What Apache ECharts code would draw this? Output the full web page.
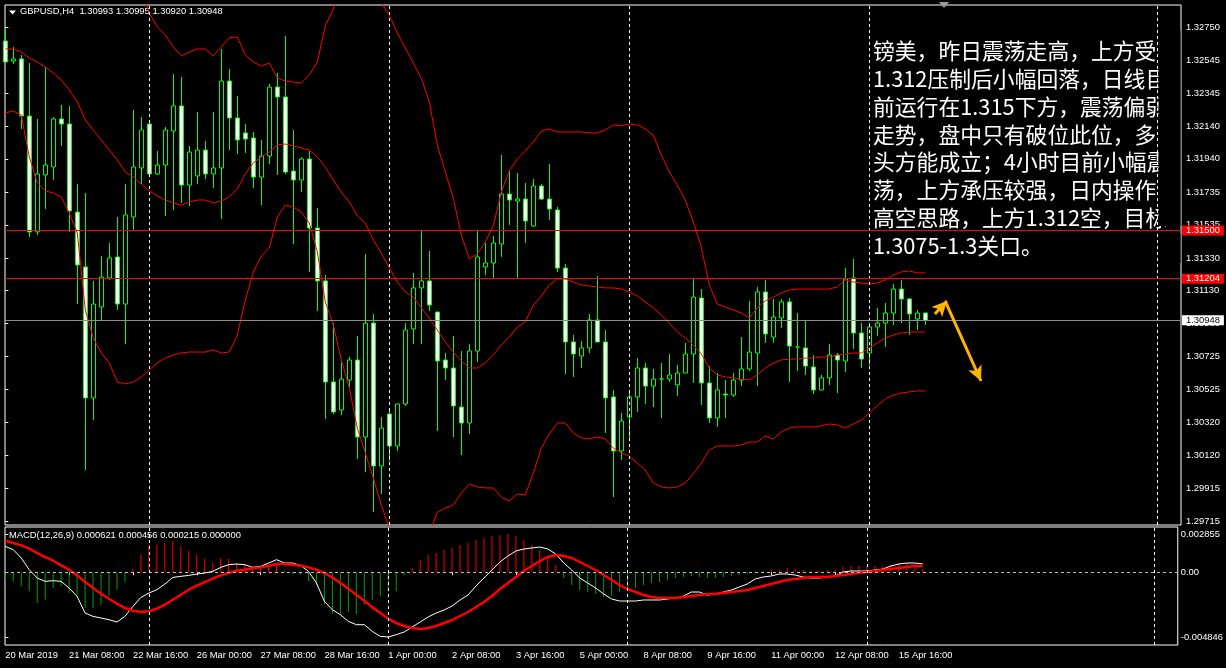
<!DOCTYPE html>
<html><head><meta charset="utf-8">
<script src="https://cdn.jsdelivr.net/npm/echarts/dist/echarts.min.js"></script>
<style>html,body{margin:0;padding:0;background:#000;}#c{width:1226px;height:668px;}</style>
</head><body><div id="c"></div><script>
const symbolName = 'GBPUSD,H4';
const xTickBars = [0,8,16,24,32,40,48,56,64,72,80,88,96,104,112];
const xTickLabels = ['20 Mar 2019','21 Mar 08:00','22 Mar 16:00','26 Mar 00:00','27 Mar 08:00','28 Mar 16:00','1 Apr 00:00','2 Apr 08:00','3 Apr 16:00','5 Apr 00:00','8 Apr 08:00','9 Apr 16:00','11 Apr 00:00','12 Apr 08:00','15 Apr 16:00'];
const yTickVals = [1.32750,1.32545,1.32345,1.32140,1.31940,1.31735,1.31535,1.31330,1.31130,1.30930,1.30725,1.30525,1.30320,1.30120,1.29915,1.29715];
const macdTickVals = [0.002855, 0, -0.004846];
const macdTickLabels = ['0.002855','0.00','-0.004846'];
const separators = [18,48,78,108,144];
const levelLines = [1.31500, 1.31204];
const bidLine = 1.30948;
const arrows = [[[116.2,1.30987],[117.7,1.31067]],[[117.6,1.31054],[121.96,1.30575]]];
const noteText = '镑美，昨日震荡走高，上方受\n1.312压制后小幅回落，日线目\n前运行在1.315下方，震荡偏弱\n走势，盘中只有破位此位，多\n头方能成立；4小时目前小幅震\n荡，上方承压较强，日内操作\n高空思路，上方1.312空，目标\n1.3075-1.3关口。';

const openP = [1.32664,1.32541,1.32554,1.32203,1.31491,1.31841,1.31890,1.32185,1.32154,1.31613,
1.31276,1.30471,1.31030,1.31208,1.31337,1.31048,1.31583,1.31884,1.32154,1.31847,
1.31902,1.32111,1.32265,1.31779,1.31835,1.31994,1.31847,1.31884,1.32418,1.32191,
1.32099,1.32068,1.31828,1.31957,1.32381,1.32320,1.31865,1.31810,1.31939,1.31515,
1.31190,1.30569,1.30397,1.30581,1.30704,1.30231,1.30931,1.30053,1.30372,1.30176,
1.30434,1.30895,1.31147,1.31190,1.30999,1.30704,1.30655,1.30415,1.30317,1.30759,
1.31276,1.31300,1.31417,1.31724,1.31681,1.31693,1.31527,1.31773,1.31693,1.31626,
1.31269,1.30815,1.30729,1.30778,1.30950,1.30815,1.30477,1.30145,1.30354,1.30477,
1.30655,1.30544,1.30587,1.30587,1.30551,1.30624,1.30741,1.31085,1.30563,1.30348,
1.30495,1.30489,1.30581,1.30649,1.30747,1.31122,1.30845,1.30962,1.31061,1.30784,
1.30778,1.30661,1.30520,1.30594,1.30735,1.30698,1.31208,1.30870,1.30747,1.30907,
1.30931,1.30993,1.31140,1.31079,1.30956,1.30993];
const highP = [1.32732,1.32627,1.32578,1.32529,1.32185,1.32504,1.32197,1.32271,1.32265,1.31785,
1.31730,1.31190,1.31343,1.31423,1.31583,1.31785,1.32240,1.32197,1.32173,1.31988,
1.32136,1.32461,1.32443,1.32019,1.32228,1.32050,1.32228,1.32615,1.32492,1.32326,
1.32154,1.32105,1.32056,1.32400,1.32468,1.32695,1.32117,1.31951,1.31988,1.31638,
1.31226,1.30931,1.30692,1.30723,1.30852,1.31355,1.30987,1.30354,1.30409,1.30434,
1.30931,1.31239,1.31497,1.31374,1.30999,1.30747,1.30852,1.30759,1.30802,1.31497,
1.31423,1.31466,1.31964,1.31871,1.31853,1.31792,1.31816,1.31785,1.31908,1.31644,
1.31294,1.30858,1.30821,1.30987,1.31220,1.30888,1.30520,1.30379,1.30520,1.30716,
1.30686,1.30649,1.30686,1.30741,1.30673,1.30809,1.31208,1.31140,1.30667,1.30624,
1.30581,1.30624,1.30845,1.31067,1.31153,1.31196,1.31079,1.31079,1.31085,1.30993,
1.30950,1.30735,1.30612,1.30802,1.30747,1.31269,1.31325,1.30931,1.30931,1.31024,
1.31054,1.31171,1.31196,1.31085,1.31011,1.30995];
const lowP = [1.32529,1.32523,1.32123,1.31460,1.31472,1.31632,1.31810,1.32019,1.31491,1.31048,
1.30028,1.30335,1.30944,1.31196,1.31011,1.30802,1.31503,1.31785,1.31828,1.31841,
1.31589,1.31626,1.31669,1.31650,1.31785,1.31816,1.31761,1.31570,1.31994,1.31970,
1.31976,1.31761,1.31656,1.31908,1.31841,1.31847,1.31417,1.31736,1.31245,1.31005,
1.30342,1.30372,1.30366,1.30538,1.30096,1.30016,1.29770,1.29881,1.30084,1.30145,
1.30422,1.30802,1.30802,1.31005,1.30268,1.30581,1.30231,1.30120,1.30249,1.30692,
1.31226,1.31202,1.31337,1.31534,1.31202,1.31423,1.31521,1.31687,1.31564,1.31245,
1.30618,1.30600,1.30655,1.30747,1.30815,1.30256,1.29862,1.30090,1.30213,1.30385,
1.30434,1.30415,1.30348,1.30569,1.30483,1.30624,1.30563,1.30428,1.30317,1.30293,
1.30348,1.30477,1.30544,1.30637,1.30544,1.30809,1.30809,1.30901,1.30569,1.30637,
1.30612,1.30495,1.30520,1.30551,1.30501,1.30630,1.30772,1.30655,1.30673,1.30852,
1.30784,1.30919,1.30931,1.30858,1.30888,1.30920];
const closeP = [1.32535,1.32554,1.32203,1.31491,1.31847,1.31902,1.32185,1.32154,1.31620,1.31288,
1.30471,1.31048,1.31214,1.31331,1.31048,1.31595,1.31890,1.32117,1.31847,1.31902,
1.32117,1.32265,1.31779,1.31982,1.31994,1.31847,1.31884,1.32418,1.32191,1.32056,
1.32062,1.31828,1.31957,1.32381,1.32320,1.31859,1.31810,1.31939,1.31515,1.31190,
1.30569,1.30385,1.30587,1.30704,1.30231,1.30931,1.30053,1.30286,1.30176,1.30434,
1.30888,1.31147,1.31190,1.31042,1.30698,1.30655,1.30422,1.30317,1.30759,1.31337,
1.31300,1.31423,1.31724,1.31687,1.31693,1.31558,1.31773,1.31693,1.31632,1.31269,
1.30815,1.30741,1.30778,1.30950,1.30815,1.30471,1.30145,1.30329,1.30477,1.30655,
1.30544,1.30587,1.30587,1.30612,1.30624,1.30741,1.31091,1.30563,1.30348,1.30520,
1.30489,1.30581,1.30649,1.30753,1.31122,1.30864,1.30968,1.31061,1.30790,1.30784,
1.30667,1.30520,1.30594,1.30735,1.30704,1.31202,1.30870,1.30710,1.30907,1.30931,
1.30993,1.31140,1.31079,1.30987,1.30993,1.30948];

const bandUpper = [1.33008,1.32996,1.32990,1.33162,1.33285,1.33272,1.33205,1.33143,1.33119,1.33100,
1.33346,1.33395,1.33365,1.33303,1.33297,1.33168,1.33082,1.32971,1.32836,1.32750,
1.32701,1.32627,1.32572,1.32596,1.32615,1.32615,1.32572,1.32627,1.32683,1.32689,
1.32578,1.32535,1.32510,1.32529,1.32437,1.32418,1.32412,1.32406,1.32455,1.32535,
1.32756,1.32861,1.32990,1.33070,1.33113,1.33100,1.33039,1.32898,1.32824,1.32713,
1.32621,1.32529,1.32437,1.32289,1.32025,1.31859,1.31700,1.31472,1.31325,1.31355,
1.31429,1.31527,1.31736,1.31865,1.31939,1.31988,1.32044,1.32111,1.32123,1.32105,
1.32105,1.32105,1.32105,1.32099,1.32099,1.32117,1.32148,1.32142,1.32154,1.32148,
1.32123,1.32087,1.31964,1.31859,1.31779,1.31687,1.31552,1.31398,1.31165,1.31048,
1.31030,1.31011,1.30993,1.30962,1.31024,1.31067,1.31091,1.31116,1.31134,1.31140,
1.31140,1.31140,1.31140,1.31140,1.31153,1.31196,1.31183,1.31177,1.31171,1.31177,
1.31196,1.31226,1.31245,1.31251,1.31239,1.31239];
const bandMiddle = [1.32615,1.32615,1.32596,1.32560,1.32535,1.32504,1.32468,1.32425,1.32363,1.32289,
1.32179,1.32117,1.32056,1.31994,1.31933,1.31859,1.31828,1.31785,1.31743,1.31712,
1.31687,1.31669,1.31656,1.31675,1.31687,1.31687,1.31669,1.31681,1.31706,1.31755,
1.31847,1.31915,1.31951,1.31982,1.32025,1.32031,1.32019,1.32007,1.31994,1.31951,
1.31890,1.31810,1.31736,1.31675,1.31589,1.31546,1.31441,1.31362,1.31269,1.31183,
1.31122,1.31091,1.31024,1.30962,1.30888,1.30815,1.30753,1.30698,1.30655,1.30655,
1.30686,1.30735,1.30796,1.30845,1.30907,1.30938,1.31042,1.31097,1.31165,1.31202,
1.31202,1.31183,1.31165,1.31159,1.31153,1.31147,1.31147,1.31140,1.31122,1.31097,
1.31061,1.31024,1.30981,1.30931,1.30876,1.30839,1.30796,1.30741,1.30655,1.30612,
1.30600,1.30594,1.30587,1.30581,1.30612,1.30655,1.30686,1.30704,1.30710,1.30710,
1.30716,1.30716,1.30723,1.30723,1.30735,1.30741,1.30747,1.30747,1.30778,1.30809,
1.30839,1.30858,1.30870,1.30876,1.30876,1.30876];
const bandLower = [1.32222,1.32234,1.32209,1.31951,1.31792,1.31743,1.31730,1.31706,1.31607,1.31484,
1.31011,1.30839,1.30747,1.30686,1.30569,1.30557,1.30569,1.30600,1.30643,1.30686,
1.30716,1.30735,1.30747,1.30753,1.30753,1.30753,1.30766,1.30747,1.30753,1.30858,
1.31073,1.31245,1.31343,1.31392,1.31583,1.31656,1.31644,1.31613,1.31546,1.31368,
1.31061,1.30919,1.30704,1.30532,1.30286,1.30133,1.29979,1.29813,1.29672,1.29598,
1.29568,1.29598,1.29629,1.29635,1.29770,1.29795,1.29813,1.29887,1.29942,1.29924,
1.29918,1.29918,1.29862,1.29838,1.29881,1.29875,1.30010,1.30163,1.30249,1.30317,
1.30317,1.30256,1.30225,1.30219,1.30231,1.30219,1.30163,1.30133,1.30114,1.30071,
1.30028,1.29948,1.29924,1.29918,1.29924,1.29948,1.30004,1.30071,1.30151,1.30176,
1.30176,1.30176,1.30182,1.30200,1.30200,1.30237,1.30219,1.30262,1.30286,1.30293,
1.30293,1.30293,1.30299,1.30311,1.30305,1.30286,1.30311,1.30335,1.30379,1.30422,
1.30465,1.30489,1.30501,1.30508,1.30514,1.30514];

const macdMain = [0.001932,0.001683,0.001060,0.000187,-0.000436,-0.000686,-0.000636,-0.000686,-0.001184,-0.001807,
-0.003054,-0.003303,-0.003428,-0.003553,-0.003727,-0.003303,-0.002555,-0.001882,-0.001558,-0.001309,
-0.000885,-0.000386,-0.000312,-0.000237,-0.000137,-0.000062,0.000062,0.000361,0.000561,0.000611,
0.000561,0.000361,0.000436,0.000686,0.000935,0.000686,0.000686,0.000511,0.000062,-0.000810,
-0.002181,-0.002805,-0.003179,-0.003677,-0.003926,-0.003926,-0.004425,-0.004799,-0.004846,-0.004674,
-0.004473,-0.004099,-0.003725,-0.003351,-0.003052,-0.002827,-0.002528,-0.002079,-0.001705,-0.001032,
-0.000434,0.000165,0.000763,0.001212,0.001586,0.001735,0.001810,0.001885,0.001735,0.001361,
0.000688,0.000165,-0.000434,-0.000808,-0.001182,-0.001631,-0.002005,-0.002154,-0.002154,-0.002154,
-0.002079,-0.002079,-0.002079,-0.002005,-0.001930,-0.001780,-0.001481,-0.001481,-0.001705,-0.001631,
-0.001481,-0.001331,-0.001107,-0.000883,-0.000509,-0.000359,-0.000284,-0.000135,-0.000135,-0.000209,
-0.000359,-0.000434,-0.000434,-0.000359,-0.000284,0.000015,0.000090,0.000090,0.000090,0.000165,
0.000239,0.000464,0.000613,0.000688,0.000688,0.000621];
const macdSignal = [0.002356,0.002181,0.002007,0.001758,0.001433,0.001134,0.000860,0.000511,0.000187,-0.000237,
-0.000735,-0.001184,-0.001608,-0.001982,-0.002356,-0.002680,-0.002879,-0.002979,-0.002929,-0.002730,
-0.002431,-0.002057,-0.001683,-0.001309,-0.001010,-0.000735,-0.000486,-0.000237,-0.000062,0.000112,
0.000187,0.000287,0.000361,0.000486,0.000611,0.000611,0.000561,0.000486,0.000361,0.000187,
-0.000062,-0.000386,-0.000810,-0.001234,-0.001683,-0.002132,-0.002630,-0.003054,-0.003478,-0.003802,
-0.004024,-0.004174,-0.004249,-0.004174,-0.004024,-0.003800,-0.003575,-0.003276,-0.002977,-0.002603,
-0.002229,-0.001780,-0.001257,-0.000808,-0.000359,0.000090,0.000464,0.000838,0.001137,0.001287,
0.001212,0.001062,0.000763,0.000464,0.000165,-0.000209,-0.000583,-0.000957,-0.001257,-0.001481,
-0.001705,-0.001855,-0.001930,-0.001930,-0.001930,-0.001855,-0.001780,-0.001705,-0.001631,-0.001631,
-0.001556,-0.001481,-0.001406,-0.001331,-0.001182,-0.001032,-0.000883,-0.000733,-0.000583,-0.000509,
-0.000434,-0.000359,-0.000359,-0.000359,-0.000284,-0.000209,-0.000135,-0.000060,0.000015,0.000090,
0.000165,0.000239,0.000314,0.000389,0.000464,0.000456];
const macdHist = [-0.000561,-0.000686,-0.001060,-0.001433,-0.002306,-0.002057,-0.001184,-0.001060,-0.001558,-0.001683,
-0.002680,-0.002680,-0.002431,-0.001807,-0.001309,-0.000760,0.000237,0.001309,0.002007,0.002057,
0.002181,0.002356,0.001932,0.001608,0.001309,0.001010,0.000686,0.001060,0.000985,0.000686,
0.000611,0.000436,0.000361,0.000436,0.000561,0.000112,-0.000137,-0.000187,-0.000686,-0.000935,
-0.002431,-0.003129,-0.003228,-0.002979,-0.003129,-0.002431,-0.002057,-0.001807,-0.001433,-0.001433,
-0.000209,0.000314,0.000913,0.001287,0.001436,0.001661,0.001810,0.002035,0.002184,0.002409,
0.002558,0.002708,0.002783,0.002855,0.002708,0.002409,0.002035,0.001661,0.001212,0.000539,
-0.000434,-0.000957,-0.001331,-0.001481,-0.001631,-0.001855,-0.001780,-0.001481,-0.001331,-0.001182,
-0.000957,-0.000808,-0.000733,-0.000583,-0.000434,-0.000359,-0.000284,-0.000359,-0.000434,-0.000434,
-0.000359,-0.000284,-0.000209,-0.000135,0.000015,0.000090,0.000165,0.000239,0.000314,0.000239,
0.000165,0.000090,0.000090,0.000165,0.000165,0.000389,0.000464,0.000464,0.000464,0.000464,
0.000464,0.000539,0.000688,0.000688,0.000613,0.000215];
const macdExtra = 0;

const chart = echarts.init(document.getElementById('c'), null, {renderer: 'canvas'});
const last = closeP.length - 1;
const pair = a => a.map((v, i) => [i, v]);
const candleData = closeP.map((c, i) => [i, openP[i], c, lowP[i], highP[i]]);
const FONT = '"Liberation Sans", Arial, sans-serif';
const lbl = {color: '#ffffff', fontSize: 9.4, fontFamily: FONT};
const xMin = -0.0375, xMax = 146.9625;
const sepLines = separators.map(v => ({xAxis: v}));

const headerText = symbolName + '  ' + [openP[last], highP[last], lowP[last], closeP[last]].map(v => v.toFixed(5)).join(' ');
const macdText = 'MACD(12,26,9) ' + [macdMain[last], macdSignal[last], macdHist[last], macdExtra].map(v => v.toFixed(6)).join(' ');

const option = {
  backgroundColor: '#000000',
  animation: false,
  grid: [
    {left: 5, width: 1176, top: 5, height: 520, show: true, borderColor: '#ffffff', borderWidth: 1, backgroundColor: 'transparent'},
    {left: 5, width: 1176, top: 527, height: 118, show: true, borderColor: '#ffffff', borderWidth: 1, backgroundColor: 'transparent'}
  ],
  xAxis: [
    {type: 'value', gridIndex: 0, min: xMin, max: xMax, axisLine: {show: false}, axisTick: {show: false}, axisLabel: {show: false}, splitLine: {show: false}},
    {type: 'value', gridIndex: 1, min: xMin, max: xMax, axisLine: {show: false},
     axisTick: {show: true, customValues: xTickBars, length: 3, lineStyle: {color: '#ffffff'}},
     axisLabel: Object.assign({show: true, customValues: xTickBars, align: 'left', margin: 6,
       formatter: v => xTickLabels[xTickBars.indexOf(Math.round(v))] || ''}, lbl),
     splitLine: {show: false}}
  ],
  yAxis: [
    {type: 'value', gridIndex: 0, position: 'right', min: 1.296903, max: 1.328852,
     axisLine: {show: false},
     axisTick: {show: true, customValues: yTickVals, length: 3, lineStyle: {color: '#ffffff'}},
     axisLabel: Object.assign({customValues: yTickVals, margin: 5, formatter: v => v.toFixed(5)}, lbl),
     splitLine: {show: false}},
    {type: 'value', gridIndex: 1, position: 'right', min: -0.005445, max: 0.003381,
     axisLine: {show: false},
     axisTick: {show: true, customValues: macdTickVals, length: 3, lineStyle: {color: '#ffffff'}},
     axisLabel: Object.assign({customValues: macdTickVals, margin: 3,
       formatter: v => macdTickLabels[macdTickVals.findIndex(t => Math.abs(t - v) < 1e-7)] || ''}, lbl),
     splitLine: {show: false}}
  ],
  series: [
    {type: 'candlestick', xAxisIndex: 0, yAxisIndex: 0, data: candleData, barWidth: 5,
     itemStyle: {color: '#000000', color0: '#ffffff', borderColor: '#00ff00', borderColor0: '#00ff00', borderColorDoji: '#00ff00', borderWidth: 1},
     markLine: {silent: true, symbol: 'none', animation: false, precision: 5,
       data: [
         ...sepLines.map(d => Object.assign({lineStyle: {color: '#ffffff', type: [3, 3], width: 1}, label: {show: false}}, d)),
         ...levelLines.map(v => ({yAxis: v, lineStyle: {color: '#ff0000', type: 'solid', width: 1},
            label: {show: true, position: 'end', distance: 1, formatter: v.toFixed(5), backgroundColor: '#ff0000', color: '#ffffff', padding: [1, 4, 0, 4], fontSize: 9.4, fontFamily: FONT}})),
         {yAxis: bidLine, lineStyle: {color: '#8c8c8c', type: 'solid', width: 1},
            label: {show: true, position: 'end', distance: 1, formatter: bidLine.toFixed(5), backgroundColor: '#ffffff', color: '#000000', padding: [1, 4, 0, 4], fontSize: 9.4, fontFamily: FONT}},
         ...arrows.map(a => [
           {coord: a[0], symbol: 'none', lineStyle: {color: '#ffb400', width: 3, type: 'solid'}, label: {show: false}},
           {coord: a[1], symbol: 'arrow', symbolSize: [11, 15]}
         ])
       ]}},
    {type: 'line', xAxisIndex: 0, yAxisIndex: 0, data: pair(bandUpper), showSymbol: false, lineStyle: {color: '#ff0000', width: 1}, silent: true},
    {type: 'line', xAxisIndex: 0, yAxisIndex: 0, data: pair(bandMiddle), showSymbol: false, lineStyle: {color: '#ff0000', width: 1}, silent: true},
    {type: 'line', xAxisIndex: 0, yAxisIndex: 0, data: pair(bandLower), showSymbol: false, lineStyle: {color: '#ff0000', width: 1}, silent: true},
    {type: 'bar', xAxisIndex: 1, yAxisIndex: 1, data: pair(macdHist), barWidth: 1,
     itemStyle: {color: p => p.value[1] >= 0 ? '#ff0000' : '#00a000'},
     markLine: {silent: true, symbol: 'none', animation: false,
       data: [
         {yAxis: 0, lineStyle: {color: '#c0c0c0', type: [3, 3], width: 1}, label: {show: false}},
         ...sepLines.map(d => Object.assign({lineStyle: {color: '#ffffff', type: [3, 3], width: 1}, label: {show: false}}, d))
       ]}},
    {type: 'line', xAxisIndex: 1, yAxisIndex: 1, data: pair(macdMain), showSymbol: false, lineStyle: {color: '#ffffff', width: 1}, silent: true},
    {type: 'line', xAxisIndex: 1, yAxisIndex: 1, data: pair(macdSignal), showSymbol: false, lineStyle: {color: '#ff0000', width: 2.5}, silent: true}
  ],
  graphic: [
    {type: 'polygon', shape: {points: [[9, 10.5], [16, 10.5], [12.5, 14.5]]}, style: {fill: '#ffffff'}},
    {type: 'polygon', shape: {points: [[939, 2], [949, 2], [944, 8]]}, style: {fill: '#9a9a9a'}},
    {type: 'text', left: 20, top: 7, style: {text: headerText, fill: '#ffffff', font: '9.4px ' + FONT}},
    {type: 'text', left: 9, top: 531, style: {text: macdText, fill: '#ffffff', font: '9.4px ' + FONT}},
    {type: 'text', left: 873, top: 37, z: 0, style: {text: noteText, fill: '#ffffff', font: '21.8px "Noto Sans CJK SC"', lineHeight: 27.8}},
    {type: 'rect', z: 1, shape: {x: 1158.5, y: 30, width: 22, height: 196}, style: {fill: '#000000'}},
    {type: 'rect', z: 1, shape: {x: 1158.5, y: 233, width: 22, height: 30}, style: {fill: '#000000'}}
  ]
};
chart.setOption(option);
</script></body></html>
